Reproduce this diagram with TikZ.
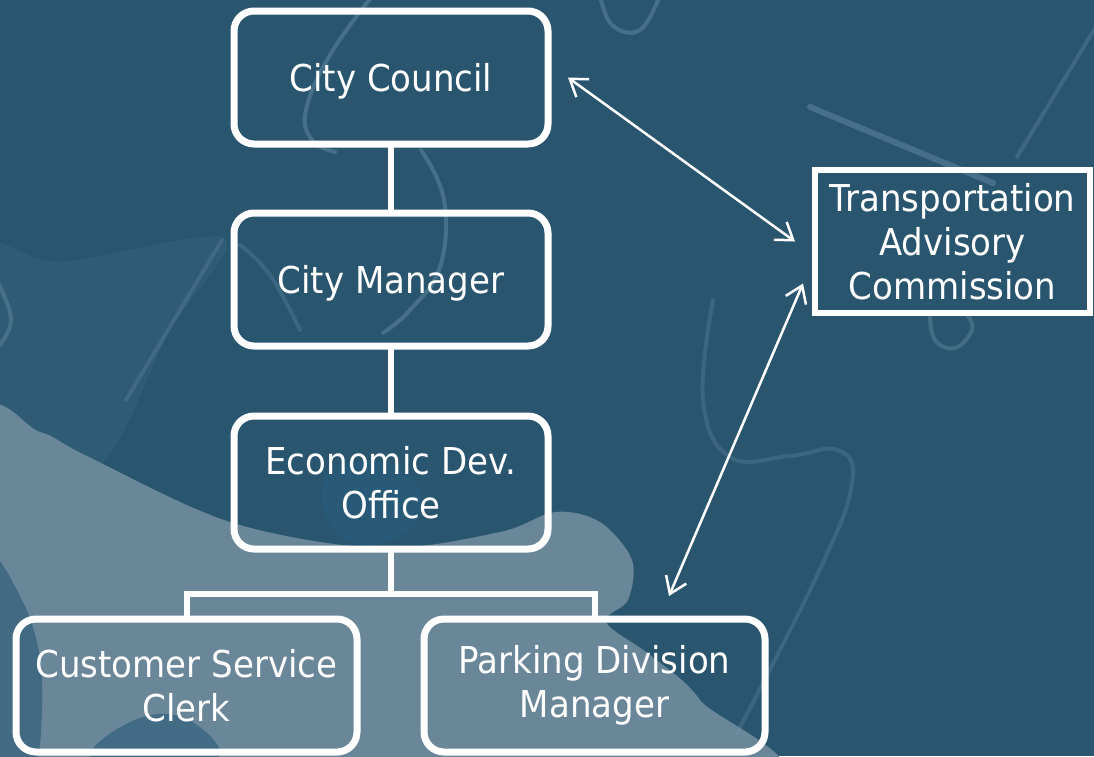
\documentclass[tikz,border=0pt]{standalone}
\usepackage{fontspec}
\setmainfont{DejaVu Sans}[FakeStretch=0.92]
\usetikzlibrary{arrows.meta,calc}

\definecolor{bgblue}{RGB}{42,85,110}
\definecolor{lightpiece}{RGB}{106,134,153}
\definecolor{midpiece}{RGB}{58,100,126}
\definecolor{darkpiece}{RGB}{40,92,122}
\definecolor{edgeglow}{RGB}{125,163,188}

\begin{document}
\begin{tikzpicture}[x=1pt,y=-1pt,
  label font/.style={font=\fontsize{37}{44}\selectfont},
  orgbox/.style={draw=white, line width=7pt, rounded corners=20pt,
    minimum width=314pt, minimum height=133pt, inner sep=0pt, outer sep=0pt,
    text=white, align=center, label font},
  oneline/.style={text height=28pt, text depth=0pt},
  wideorgbox/.style={orgbox, minimum width=341pt},
  sidebox/.style={draw=white, line width=6pt, minimum width=275pt,
    minimum height=143pt, inner sep=0pt, outer sep=0pt,
    text=white, align=center, label font},
  conn/.style={draw=white, line width=6pt},
  link/.style={draw=white, line width=2.5pt,
    {Straight Barb[length=16pt,width=22pt]}-{Straight Barb[length=16pt,width=22pt]}},
  glow/.style={draw=edgeglow, line width=4pt, opacity=0.35, line cap=round}]

\useasboundingbox (0,0) rectangle (1094,756);

% backdrop: jigsaw pieces in blue tones
\begin{scope}
  \clip (0,0) rectangle (1094,756);
  \fill[bgblue] (0,0) rectangle (1094,756);
  \fill[midpiece, opacity=0.4] plot[smooth cycle, tension=0.5] coordinates
    {(-20,250) (60,262) (225,238) (170,330) (95,470) (-20,445)};
  \fill[lightpiece] plot[smooth cycle, tension=0.55] coordinates
    {(-20,428) (40,432) (85,455) (230,522) (380,548) (500,532) (555,512)
     (600,522) (632,560) (628,600) (606,622) (650,655) (700,700) (745,790)
     (-20,790)};
  \fill[darkpiece, opacity=0.8] plot[smooth cycle, tension=0.6] coordinates
    {(330,470) (385,462) (420,490) (410,530) (360,545) (325,515)};
  \fill[midpiece, opacity=0.8] plot[smooth cycle, tension=0.6] coordinates
    {(-20,560) (22,600) (42,680) (30,790) (-20,790)};
  \fill[darkpiece, opacity=0.6] plot[smooth cycle, tension=0.7] coordinates
    {(95,760) (130,722) (185,718) (215,760)};
  % faint piece outlines
  \draw[glow] plot[smooth, tension=0.7] coordinates
    {(373,-5) (330,55) (306,110) (312,140) (335,152)};
  \draw[glow] plot[smooth, tension=0.7] coordinates
    {(421,150) (444,200) (440,267) (410,310) (383,333)};
  \draw[glow] plot[smooth, tension=0.7] coordinates
    {(600,-5) (612,25) (640,30) (660,-5)};
  \draw[glow, line width=6pt] (810,107) -- (993,183);
  \draw[glow, opacity=0.25] (1100,20) -- (1017,157);
  \draw[glow, opacity=0.3] plot[smooth, tension=0.7] coordinates
    {(930,316) (935,340) (955,348) (972,330) (968,316)};
  \draw[glow, opacity=0.22] plot[smooth, tension=0.7] coordinates
    {(713,300) (703,400) (730,457) (790,456) (838,450) (852,483) (821,567) (737,733)};
  \draw[glow, opacity=0.3] plot[smooth, tension=0.7] coordinates
    {(-5,277) (11,320) (-5,350)};
  \draw[glow, opacity=0.22] (222,240) -- (126,400);
  \draw[glow, opacity=0.22] plot[smooth, tension=0.7] coordinates
    {(240,245) (270,275) (300,330)};
\end{scope}

% organisation chart
\node[orgbox, oneline] (cc) at (391,77.5) {City Council};
\node[orgbox, oneline] (cm) at (391,279.5) {City Manager};
\node[orgbox] (edo) at (391,482.5) {Economic Dev.\\Office};
\node[wideorgbox] (csc) at (186.5,685.5) {Customer Service\\Clerk};
\node[wideorgbox] (pdm) at (594.5,685.5) {Parking Division\\Manager};
\node[sidebox] (tac) at (952.5,241.5) {Transportation\\Advisory\\Commission};

\draw[conn] (cc.south) -- (cm.north);
\draw[conn] (cm.south) -- (edo.north);
\draw[conn] (edo.south) -- ++(0,45) -| (csc.north);
\draw[conn] (edo.south) -- ++(0,45) -| (pdm.north);

% advisory links
\draw[link] ($(cc.east)+(20,0)$) -- ($(tac.west)+(-20,0)$);
\draw[link] ($(pdm.north)+(74.5,-23)$) -- ($(tac.west)+(-12,42)$);

\end{tikzpicture}
\end{document}
